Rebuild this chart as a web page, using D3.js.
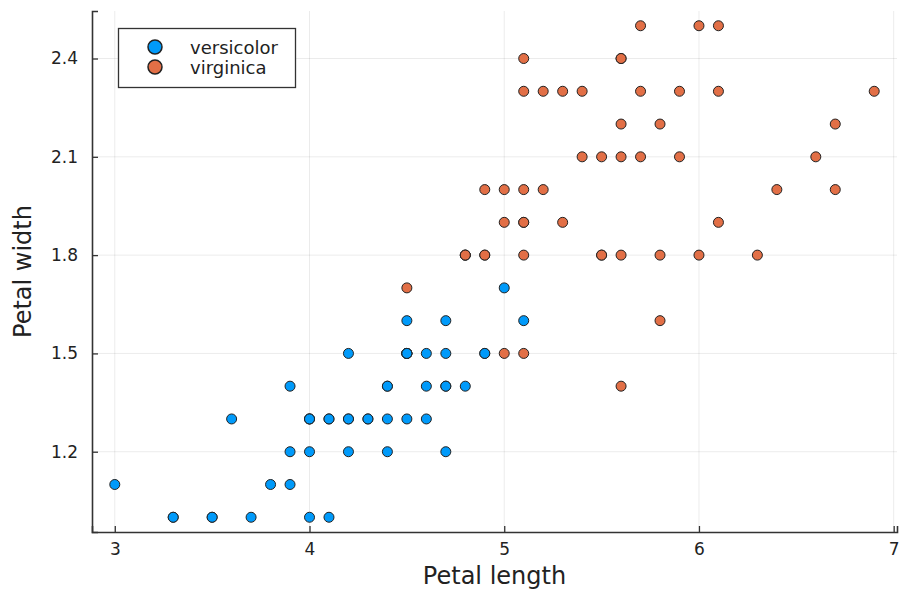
<!DOCTYPE html>
<html>
<head>
<meta charset="utf-8">
<script src="https://cdn.jsdelivr.net/npm/d3@7"></script>
<style>
  body { margin: 0; background: #fff; }
  svg { display: block; font-family: "DejaVu Sans", sans-serif; }
</style>
</head>
<body>
<svg id="chart" width="900" height="592"></svg>
<script>
// Iris petal measurements
const versicolorLength = [4.7,4.5,4.9,4.0,4.6,4.5,4.7,3.3,4.6,3.9,3.5,4.2,4.0,4.7,3.6,4.4,4.5,4.1,4.5,3.9,4.8,4.0,4.9,4.7,4.3,4.4,4.8,5.0,4.5,3.5,3.8,3.7,3.9,5.1,4.5,4.5,4.7,4.4,4.1,4.0,4.4,4.6,4.0,3.3,4.2,4.2,4.2,4.3,3.0,4.1];
const versicolorWidth  = [1.4,1.5,1.5,1.3,1.5,1.3,1.6,1.0,1.3,1.4,1.0,1.5,1.0,1.4,1.3,1.4,1.5,1.0,1.5,1.1,1.8,1.3,1.5,1.2,1.3,1.4,1.4,1.7,1.5,1.0,1.1,1.0,1.2,1.6,1.5,1.6,1.5,1.3,1.3,1.3,1.2,1.4,1.2,1.0,1.3,1.2,1.3,1.3,1.1,1.3];
const virginicaLength  = [6.0,5.1,5.9,5.6,5.8,6.6,4.5,6.3,5.8,6.1,5.1,5.3,5.5,5.0,5.1,5.3,5.5,6.7,6.9,5.0,5.7,4.9,6.7,4.9,5.7,6.0,4.8,4.9,5.6,5.8,6.1,6.4,5.6,5.1,5.6,6.1,5.6,5.5,4.8,5.4,5.6,5.1,5.1,5.9,5.7,5.2,5.0,5.2,5.4,5.1];
const virginicaWidth   = [2.5,1.9,2.1,1.8,2.2,2.1,1.7,1.8,1.8,2.5,2.0,1.9,2.1,2.0,2.4,2.3,1.8,2.2,2.3,1.5,2.3,2.0,2.0,1.8,2.1,1.8,1.8,1.8,2.1,1.6,1.9,2.0,2.2,1.5,1.4,2.3,2.4,1.8,1.8,2.1,2.4,2.3,1.9,2.3,2.5,2.3,1.9,2.0,2.3,1.8];
const xTicks = [3, 4, 5, 6, 7];
const yTicks = [1.2, 1.5, 1.8, 2.1, 2.4];
const seriesNames = ["versicolor", "virginica"];
const seriesColors = ["#009AFA", "#E26F46"];

const series = [
  { name: seriesNames[0], color: seriesColors[0], xs: versicolorLength, ys: versicolorWidth },
  { name: seriesNames[1], color: seriesColors[1], xs: virginicaLength, ys: virginicaWidth }
];

const svg = d3.select("#chart");
const plotLeft = 92, plotRight = 897, plotTop = 11, plotBottom = 532;

// Axis limits padded 3% beyond the data range
const allX = versicolorLength.concat(virginicaLength);
const allY = versicolorWidth.concat(virginicaWidth);
const [xmin, xmax] = d3.extent(allX);
const [ymin, ymax] = d3.extent(allY);
const xpad = (xmax - xmin) * 0.03, ypad = (ymax - ymin) * 0.03;

const x = d3.scaleLinear().domain([xmin - xpad, xmax + xpad]).range([plotLeft, plotRight]);
const y = d3.scaleLinear().domain([ymin - ypad, ymax + ypad]).range([plotBottom, plotTop]);

// Grid lines
const grid = svg.append("g").attr("stroke", "#000").attr("stroke-opacity", 0.1).attr("stroke-width", 0.8);
grid.selectAll(".gx").data(xTicks).join("line")
  .attr("x1", d => x(d)).attr("x2", d => x(d)).attr("y1", plotTop).attr("y2", plotBottom);
grid.selectAll(".gy").data(yTicks).join("line")
  .attr("y1", d => y(d)).attr("y2", d => y(d)).attr("x1", plotLeft).attr("x2", plotRight);

// Axes with inward ticks
const xAxis = svg.append("g").attr("transform", `translate(0,${plotBottom})`)
  .call(d3.axisBottom(x).tickValues(xTicks).tickSize(-6).tickPadding(11).tickFormat(d3.format("d")));
const yAxis = svg.append("g").attr("transform", `translate(${plotLeft},0)`)
  .call(d3.axisLeft(y).tickValues(yTicks).tickSize(-6).tickPadding(14).tickFormat(d3.format(".1f")));
[xAxis, yAxis].forEach(a => {
  a.select(".domain").attr("stroke", "#333").attr("stroke-width", 1.6);
  a.selectAll(".tick line").attr("stroke", "#333").attr("stroke-width", 1.3);
  a.selectAll(".tick text").attr("fill", "#222").style("font-size", "17px").style("font-family", "DejaVu Sans, sans-serif");
});

// Points
series.forEach(s => {
  svg.append("g").selectAll("circle")
    .data(s.xs.map((v, i) => [v, s.ys[i]]))
    .join("circle")
    .attr("cx", d => x(d[0])).attr("cy", d => y(d[1]))
    .attr("r", 5)
    .attr("fill", s.color)
    .attr("stroke", "#222").attr("stroke-width", 1);
});

// Axis titles
svg.append("text").attr("x", (plotLeft + plotRight) / 2).attr("y", 584)
  .attr("text-anchor", "middle").attr("fill", "#222").style("font-size", "24px").text("Petal length");
svg.append("text").attr("transform", `translate(31,${(plotTop + plotBottom) / 2}) rotate(-90)`)
  .attr("text-anchor", "middle").attr("fill", "#222").style("font-size", "24px").text("Petal width");

// Legend
const legend = svg.append("g");
legend.append("rect").attr("x", 118.5).attr("y", 28.5).attr("width", 177).attr("height", 59)
  .attr("fill", "#fff").attr("stroke", "#333").attr("stroke-width", 1.3);
series.forEach((s, i) => {
  const cy = 47 + i * 20;
  legend.append("circle").attr("cx", 155).attr("cy", cy).attr("r", 7)
    .attr("fill", s.color).attr("stroke", "#222").attr("stroke-width", 1.5);
  legend.append("text").attr("x", 190).attr("y", cy + 6.5).attr("fill", "#222")
    .style("font-size", "18px").text(s.name);
});
</script>
</body>
</html>
